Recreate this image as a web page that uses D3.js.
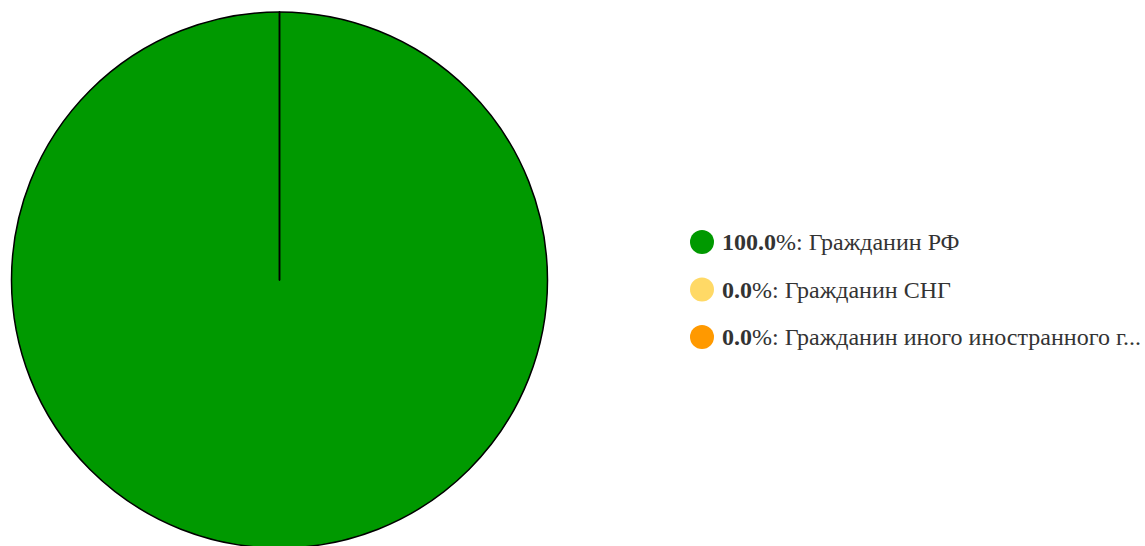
<!DOCTYPE html>
<html>
<head>
<meta charset="utf-8">
<script src="https://cdn.jsdelivr.net/npm/d3@7"></script>
<style>
body { margin: 0; background: #fff; }
</style>
</head>
<body>
<div id="chart"></div>
<script>
var categories = ["Гражданин РФ", "Гражданин СНГ", "Гражданин иного иностранного г..."];
var values = [100, 0, 0];
var colors = ["#009900", "#ffd966", "#ff9900"];

var width = 1145, height = 546;
var cx = 279.5, cy = 280, radius = 268;

var svg = d3.select("#chart").append("svg")
	.attr("width", width)
	.attr("height", height);

var data = categories.map(function(c, i){ return {name: c, value: values[i], color: colors[i]}; });

var pie = d3.pie().sort(null).value(function(d){ return d.value; });
var arc = d3.arc().innerRadius(0).outerRadius(radius);

var g = svg.append("g").attr("transform", "translate(" + cx + "," + cy + ")");

g.selectAll("path")
	.data(pie(data))
	.enter()
	.append("path")
	.attr("d", arc)
	.attr("fill", function(d){ return d.data.color; })
	.attr("stroke", "#000")
	.attr("stroke-width", 1.5)
	.attr("stroke-linejoin", "round");

//legend
var total = d3.sum(values);
var legend = svg.append("g").attr("transform", "translate(702,242)");
var rows = legend.selectAll("g")
	.data(data)
	.enter()
	.append("g")
	.attr("transform", function(d, i){ return "translate(0," + (i * 47.5) + ")"; });

rows.append("circle")
	.attr("r", 12)
	.attr("fill", function(d){ return d.color; });

var txt = rows.append("text")
	.attr("x", 20)
	.attr("y", 8)
	.style("font-family", "Liberation Serif, serif")
	.style("font-size", "24px")
	.style("fill", "#333");
txt.append("tspan")
	.style("font-weight", "bold")
	.text(function(d){ return (d.value / total * 100).toFixed(1); });
txt.append("tspan")
	.text(function(d){ return "%: " + d.name; });
</script>
</body>
</html>
